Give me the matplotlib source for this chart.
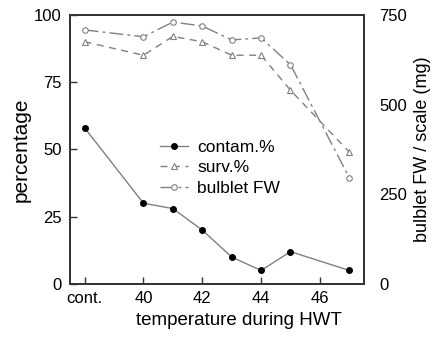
import numpy as np
import matplotlib
matplotlib.use("Agg")
import matplotlib.pyplot as plt

plt.rcParams['font.family'] = ['Liberation Sans', 'DejaVu Sans']

# data
temps = [38, 40, 41, 42, 43, 44, 45, 47]
xtick_pos = [38, 40, 42, 44, 46]
xtick_lab = ["cont.", "40", "42", "44", "46"]
contam = [58, 30, 28, 20, 10, 5, 12, 5]
surv = [90, 85, 92, 90, 85, 85, 72, 49]
bulblet_fw = [708, 689, 730, 719, 680, 686, 611, 296]

fig = plt.figure(figsize=(4.37, 3.38), dpi=100)
ax = fig.add_axes([0.160, 0.160, 0.673, 0.796])
ax2 = ax.twinx()

c_line = "#808080"
ax.plot(temps, contam, color=c_line, lw=1.0, marker="o", ms=4,
        mfc="black", mec="black", label="contam.%")
ax.plot(temps, surv, color=c_line, lw=1.0, dashes=(5, 4), marker="^", ms=4,
        mfc="white", mec=c_line, mew=0.8, label="surv.%")
ax2.plot(temps, bulblet_fw, color=c_line, lw=1.0, dashes=(10, 3, 2, 3), marker="o", ms=4,
         mfc="white", mec=c_line, mew=0.8, label="bulblet FW")

ax.set_xlim(37.5, 47.5)
ax.set_ylim(0, 100)
ax2.set_ylim(0, 750)
ax.set_yticks([0, 25, 50, 75, 100])
ax2.set_yticks([0, 250, 500, 750])
ax.set_xticks(xtick_pos)
ax.set_xticklabels(xtick_lab)

ax.tick_params(direction="in", length=5, width=1, labelsize=12, color="#333333", pad=6)
ax.tick_params(axis="x", pad=5)
ax2.tick_params(direction="in", length=0, labelsize=12, pad=11)

for a in (ax, ax2):
    for s in a.spines.values():
        s.set_color("#333333")
        s.set_linewidth(1.3)

ax.set_xlabel("temperature during HWT", fontsize=13.5, labelpad=3)
ax.xaxis.set_label_coords(0.575, -0.105)
ax.set_ylabel("percentage", fontsize=15, labelpad=2)
ax2.set_ylabel("bulblet FW / scale (mg)", fontsize=13, labelpad=5)

h1, l1 = ax.get_legend_handles_labels()
h2, l2 = ax2.get_legend_handles_labels()
leg = ax2.legend(h1 + h2, l1 + l2, loc="upper left", bbox_to_anchor=(0.306, 0.535),
                 frameon=False, fontsize=12.5, handlelength=1.6, handletextpad=0.55,
                 labelspacing=0.3, borderpad=0, borderaxespad=0)

fig.savefig("out.png", dpi=100)
